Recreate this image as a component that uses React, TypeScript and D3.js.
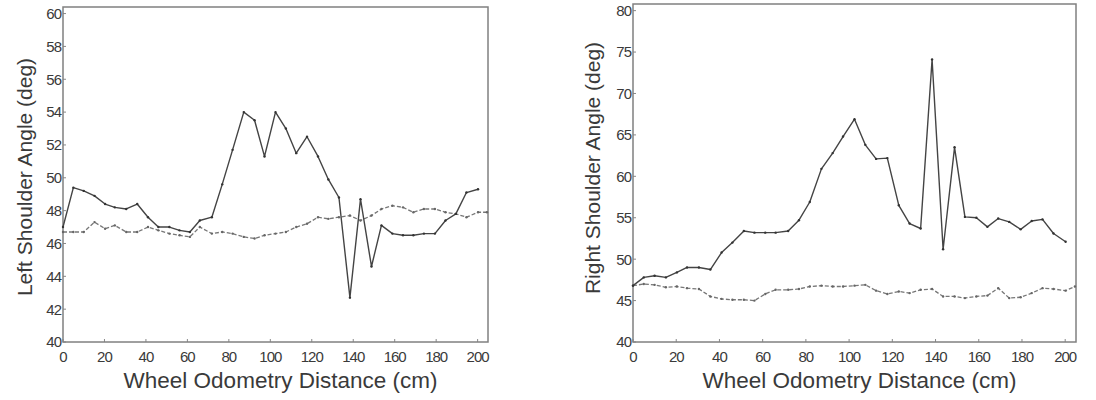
import React, { useEffect, useRef } from "react";
import * as d3 from "d3";

// distance (cm) of each sample
const distance = [0, 5, 10, 15.2, 20.3, 25, 30.5, 35.8, 41, 46, 51.3, 56.2, 61.2, 66, 71.8, 76.8, 81.8, 87.2, 92.4, 97.2,
  102.5, 107.5, 112.5, 117.7, 123, 128, 133.1, 138.4, 143.5, 148.8, 153.6, 158.9, 164, 169, 174.1, 179.4, 184.5, 189.5, 194.6, 200.2];
// the dashed runs have one extra sample at the right border
const dashedDistance = [...distance, 204.5];

const leftSolid = [47.0, 49.4, 49.2, 48.9, 48.4, 48.2, 48.1, 48.4, 47.6, 47.0, 47.0, 46.8, 46.7, 47.4, 47.6, 49.6, 51.7, 54.0, 53.5, 51.3,
  54.0, 53.0, 51.5, 52.5, 51.3, 49.9, 48.8, 42.7, 48.7, 44.6, 47.1, 46.6, 46.5, 46.5, 46.6, 46.6, 47.4, 47.8, 49.1, 49.3];
const leftDashed = [46.7, 46.7, 46.7, 47.3, 46.9, 47.1, 46.7, 46.7, 47.0, 46.8, 46.6, 46.5, 46.4, 47.0, 46.6, 46.7, 46.6, 46.4, 46.3, 46.5,
  46.6, 46.7, 47.0, 47.2, 47.6, 47.5, 47.6, 47.7, 47.4, 47.7, 48.1, 48.3, 48.2, 47.9, 48.1, 48.1, 47.9, 47.8, 47.6, 47.9, 47.9];

const rightSolid = [46.8, 47.8, 48.0, 47.8, 48.4, 49.0, 49.0, 48.75, 50.8, 52.0, 53.4, 53.2, 53.2, 53.2, 53.4, 54.7, 56.9, 60.9, 62.8, 64.8,
  66.9, 63.8, 62.1, 62.2, 56.5, 54.3, 53.7, 74.1, 51.2, 63.5, 55.1, 55.0, 53.9, 54.9, 54.5, 53.6, 54.6, 54.8, 53.1, 52.1];
const rightDashed = [46.8, 47.0, 46.9, 46.6, 46.7, 46.5, 46.4, 45.5, 45.2, 45.1, 45.1, 45.0, 45.8, 46.3, 46.3, 46.4, 46.7, 46.8, 46.7, 46.7,
  46.8, 46.9, 46.2, 45.8, 46.1, 45.9, 46.3, 46.4, 45.5, 45.5, 45.3, 45.5, 45.6, 46.5, 45.3, 45.4, 45.9, 46.5, 46.4, 46.2, 46.7];

const xTicks = [0, 20, 40, 60, 80, 100, 120, 140, 160, 180, 200];
const leftYTicks = [40, 42, 44, 46, 48, 50, 52, 54, 56, 58, 60];
const rightYTicks = [40, 45, 50, 55, 60, 65, 70, 75, 80];

const FONT = "'Liberation Sans', Arial, sans-serif";
const INK = "#3a3a3a";

type Panel = {
  left: number; right: number; top: number; bottom: number;
  yMax: number; yTicks: number[]; solid: number[]; dashed: number[];
  title: string; titleX: number; titleY: number;
};

function drawPanel(svg: d3.Selection<SVGSVGElement, unknown, null, undefined>, p: Panel) {
  const x = d3.scaleLinear().domain([0, 205]).range([p.left, p.right]);
  const y = d3.scaleLinear().domain([40, p.yMax]).range([p.bottom, p.top]);
  const g = svg.append("g");

  // y axis labels + small ticks
  g.selectAll(".yl").data(p.yTicks).join("text")
    .attr("x", p.left - 2).attr("y", (d) => y(d)).attr("dy", "0.36em")
    .attr("text-anchor", "end").attr("font-size", 15).attr("font-family", FONT)
    .attr("letter-spacing", -1).attr("fill", INK).text((d) => d);
  g.selectAll(".yt").data(p.yTicks).join("line")
    .attr("x1", p.left).attr("x2", p.left + 3).attr("y1", (d) => y(d)).attr("y2", (d) => y(d))
    .attr("stroke", "#888").attr("stroke-width", 1);

  // x axis labels
  g.selectAll(".xl").data(xTicks).join("text")
    .attr("x", (d) => x(d)).attr("y", p.bottom + 15).attr("dy", "0.36em")
    .attr("text-anchor", "middle").attr("font-size", 15).attr("font-family", FONT)
    .attr("letter-spacing", -1).attr("fill", INK).text((d) => d);
  g.selectAll(".xt").data(xTicks).join("line")
    .attr("x1", (d) => x(d)).attr("x2", (d) => x(d)).attr("y1", p.bottom).attr("y2", p.bottom - 3)
    .attr("stroke", "#888").attr("stroke-width", 1);

  // frame
  g.append("rect").attr("x", p.left).attr("y", p.top)
    .attr("width", p.right - p.left).attr("height", p.bottom - p.top)
    .attr("fill", "none").attr("stroke", "#808080").attr("stroke-width", 1.5);

  const line = d3.line<[number, number]>().x((d) => x(d[0])).y((d) => y(d[1]));

  const dashedPts: [number, number][] = p.dashed.map((v, i) => [dashedDistance[i], v]);
  const solidPts: [number, number][] = p.solid.map((v, i) => [distance[i], v]);

  g.append("path").attr("d", line(dashedPts)).attr("fill", "none")
    .attr("stroke", "#777").attr("stroke-width", 1.3).attr("stroke-dasharray", "4,2");
  g.selectAll(".dd").data(dashedPts).join("circle")
    .attr("cx", (d) => x(d[0])).attr("cy", (d) => y(d[1])).attr("r", 1.2).attr("fill", "#666");

  g.append("path").attr("d", line(solidPts)).attr("fill", "none")
    .attr("stroke", "#444").attr("stroke-width", 1.4).attr("stroke-linejoin", "round");
  g.selectAll(".sd").data(solidPts).join("circle")
    .attr("cx", (d) => x(d[0])).attr("cy", (d) => y(d[1])).attr("r", 1.2).attr("fill", "#333");

  // axis titles
  g.append("text").attr("x", (p.left + p.right) / 2 + 5).attr("y", 388)
    .attr("text-anchor", "middle").attr("font-size", 22.5).attr("font-family", FONT)
    .attr("fill", INK).text("Wheel Odometry Distance (cm)");
  g.append("text")
    .attr("transform", `translate(${p.titleX},${p.titleY}) rotate(-90)`)
    .attr("text-anchor", "middle").attr("font-size", 21).attr("font-family", FONT)
    .attr("fill", INK).text(p.title);
}

export default function App() {
  const ref = useRef<SVGSVGElement>(null);

  useEffect(() => {
    const svg = d3.select(ref.current!);
    svg.selectAll("*").remove();

    drawPanel(svg, {
      left: 63, right: 488, top: 7, bottom: 342, yMax: 60.4, yTicks: leftYTicks,
      solid: leftSolid, dashed: leftDashed, title: "Left Shoulder Angle (deg)", titleX: 32, titleY: 177,
    });
    drawPanel(svg, {
      left: 633, right: 1076, top: 4, bottom: 342, yMax: 80.8, yTicks: rightYTicks,
      solid: rightSolid, dashed: rightDashed, title: "Right Shoulder Angle (deg)", titleX: 600, titleY: 168,
    });
  }, []);

  return (
    <svg ref={ref} width={1096} height={400}
      style={{ position: "absolute", left: 0, top: 0, background: "#fff" }} />
  );
}
